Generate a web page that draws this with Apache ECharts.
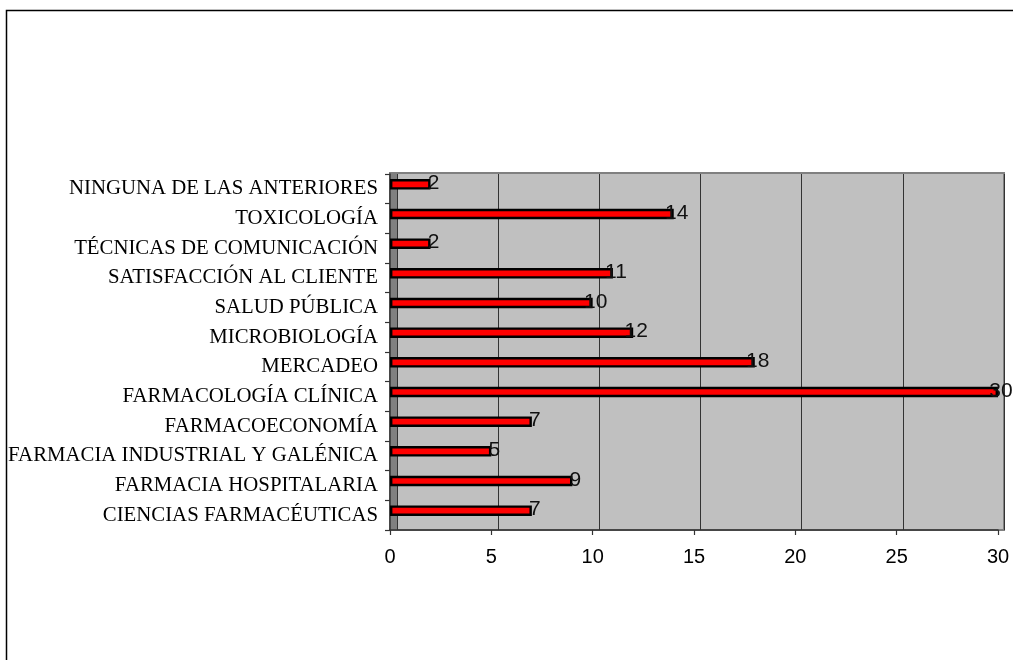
<!DOCTYPE html>
<html>
<head>
<meta charset="utf-8">
<script src="https://cdn.jsdelivr.net/npm/echarts@6/dist/echarts.min.js"></script>
<style>
html,body{margin:0;padding:0;background:#fff;}
#c{width:1013px;height:660px;}
</style>
</head>
<body>
<div id="c"></div>
<script>
const categories = [
  "CIENCIAS FARMACÉUTICAS",
  "FARMACIA HOSPITALARIA",
  "FARMACIA INDUSTRIAL Y GALÉNICA",
  "FARMACOECONOMÍA",
  "FARMACOLOGÍA CLÍNICA",
  "MERCADEO",
  "MICROBIOLOGÍA",
  "SALUD PÚBLICA",
  "SATISFACCIÓN AL CLIENTE",
  "TÉCNICAS DE COMUNICACIÓN",
  "TOXICOLOGÍA",
  "NINGUNA DE LAS ANTERIORES"
];
const values = [7, 9, 5, 7, 30, 18, 12, 10, 11, 2, 14, 2];
const axisMin = 0, axisMax = 30, axisStep = 5;

const chart = echarts.init(document.getElementById('c'), null, {renderer: 'canvas'});
const hiddenVal = (g) => ({type: 'value', gridIndex: g, show: false, min: 0, max: 1});
chart.setOption({
  animation: false,
  backgroundColor: '#fff',
  graphic: [{
    type: 'rect', z: 100,
    shape: {x: 6.5, y: 10.5, width: 1200, height: 900},
    style: {fill: 'none', stroke: '#000', lineWidth: 1.5}
  }],
  grid: [
    {left: 390, top: 173, right: 9, bottom: 130, show: true, backgroundColor: '#C0C0C0', borderColor: '#808080', borderWidth: 2},
    {left: 390, top: 174, width: 7, bottom: 130, show: true, backgroundColor: '#808080', borderWidth: 0},
    {left: 397, top: 174, right: 9, bottom: 130},
    {left: 390, top: 174, right: 15, bottom: 130},
    {left: 390, top: 169.5, right: 15, bottom: 134.5}
  ],
  xAxis: [
    hiddenVal(0),
    hiddenVal(1),
    {type: 'value', gridIndex: 2, min: axisMin, max: axisMax, interval: axisStep,
     axisLine: {show: false}, axisTick: {show: false}, axisLabel: {show: false},
     splitLine: {show: true, lineStyle: {color: '#333', width: 1}}},
    {type: 'value', gridIndex: 3, min: axisMin, max: axisMax, interval: axisStep,
     axisLine: {show: true, lineStyle: {color: '#333', width: 1.5}},
     axisTick: {show: true, length: 5, lineStyle: {color: '#333', width: 1.2}},
     axisLabel: {fontFamily: 'Liberation Sans, Arial', fontSize: 20, color: '#000', margin: 17},
     splitLine: {show: false}},
    {type: 'value', gridIndex: 4, min: axisMin, max: axisMax, show: false}
  ],
  yAxis: [
    hiddenVal(0),
    hiddenVal(1),
    hiddenVal(2),
    {type: 'category', gridIndex: 3, data: categories,
     axisLine: {show: true, lineStyle: {color: '#333', width: 1.5}},
     axisTick: {show: true, length: 5, lineStyle: {color: '#333', width: 1.2}},
     axisLabel: {fontFamily: 'Liberation Serif, Times New Roman', fontSize: 20.8, color: '#000', margin: 12},
     splitLine: {show: false}},
    {type: 'category', gridIndex: 4, data: categories, show: false}
  ],
  series: [{
    type: 'bar',
    xAxisIndex: 4, yAxisIndex: 4,
    data: values,
    barWidth: 10.5,
    itemStyle: {color: '#FF0000', borderColor: '#000', borderWidth: 2.4},
    label: {
      show: true, position: 'right', distance: 3, align: 'center', verticalAlign: 'middle',
      offset: [0, -1],
      fontFamily: 'Liberation Sans, Arial', fontSize: 21, color: '#111'
    }
  }]
});
</script>
</body>
</html>
